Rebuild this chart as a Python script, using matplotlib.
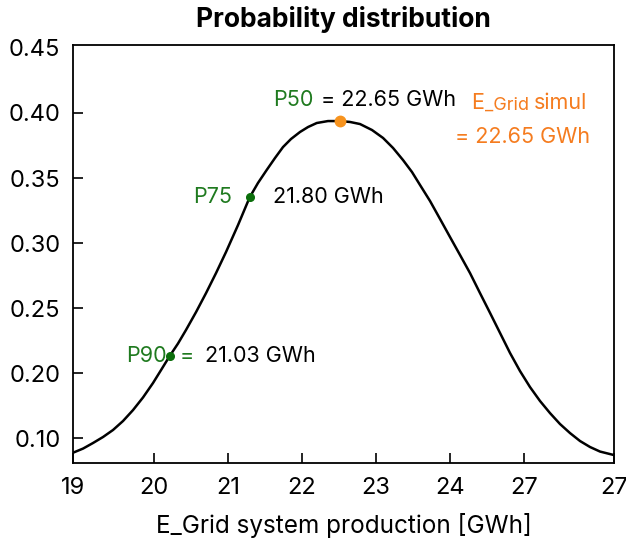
import matplotlib
matplotlib.use('Agg')
import matplotlib.pyplot as plt

plt.rcParams['font.family'] = ['Inter', 'DejaVu Sans']

# curve (x in axis units, y = density)
curve_x = [18.905, 19.041, 19.176, 19.311, 19.446, 19.581, 19.716, 19.851, 19.986,
           20.095, 20.212, 20.324, 20.432, 20.568, 20.703, 20.838, 20.973, 21.135,
           21.293, 21.405, 21.523, 21.635, 21.743, 21.851, 21.973, 22.081, 22.199,
           22.351, 22.514, 22.649, 22.784, 22.946, 23.095, 23.230, 23.365, 23.486,
           23.595, 23.730, 23.865, 24.000, 24.135, 24.270, 24.405, 24.541, 24.676,
           24.811, 24.946, 25.081, 25.216, 25.351, 25.486, 25.622, 25.757, 25.892,
           26.027, 26.216]
curve_y = [0.1387, 0.1419, 0.1462, 0.1508, 0.1562, 0.1631, 0.1715, 0.1812, 0.1923,
           0.2023, 0.2131, 0.2227, 0.2331, 0.2469, 0.2615, 0.2769, 0.2931, 0.3138,
           0.3352, 0.3462, 0.3562, 0.3654, 0.3738, 0.3800, 0.3854, 0.3892, 0.3923,
           0.3938, 0.3938, 0.3931, 0.3915, 0.3869, 0.3808, 0.3731, 0.3638, 0.3546,
           0.3446, 0.3323, 0.3185, 0.3046, 0.2908, 0.2769, 0.2615, 0.2462, 0.2308,
           0.2154, 0.2015, 0.1892, 0.1785, 0.1692, 0.1608, 0.1538, 0.1477, 0.1431,
           0.1396, 0.1369]

p_x = [20.212, 21.293]   # P90, P75
p_y = [0.2131, 0.3352]
p50_x = 22.514
p50_y = 0.3938

xtick_pos = [18.905, 20, 21, 22, 23, 24, 25, 26.216]
xtick_lab = ['19', '20', '21', '22', '23', '24', '27', '27']
ytick_pos = [0.15, 0.20, 0.25, 0.30, 0.35, 0.40, 0.45]
ytick_lab = ['0.10', '0.20', '0.25', '0.30', '0.35', '0.40', '0.45']

green = '#1f7a1f'
orange = '#f57c1f'

fig = plt.figure(figsize=(6.26, 5.45), dpi=100)
ax = fig.add_axes([73/626, 1-463/545, (614-73)/626, (463-45)/545])

ax.plot(curve_x, curve_y, color='black', lw=1.8, solid_joinstyle='round')
ax.plot(p_x, p_y, 'o', color='#0b6e0b', ms=5.5, zorder=3)
ax.plot([p50_x], [p50_y], 'o', color='#f7931e', ms=7.5, zorder=3)

ax.set_xlim(18.905, 26.216)
ax.set_ylim(0.1308, 0.4523)
ax.set_xticks(xtick_pos)
ax.set_xticklabels(xtick_lab)
ax.set_yticks(ytick_pos)
ax.set_yticklabels(ytick_lab)
ax.tick_params(direction='in', length=7, width=1.2, labelsize=17, pad=9)
ax.tick_params(axis='x', pad=10)
ax.yaxis.get_major_ticks()[-1].tick1line.set_visible(False)
for s in ax.spines.values():
    s.set_linewidth(1.3)

ax.set_title('Probability distribution', fontsize=19, fontweight='bold', pad=13)
ax.set_xlabel('E_Grid system production [GWh]', fontsize=17.5, labelpad=10)

fs = 15.5
ax.text(21.608, 0.410, 'P50', color=green, fontsize=fs, va='center')
ax.text(22.257, 0.410, '= 22.65 GWh', color='black', fontsize=fs, va='center')
ax.text(20.527, 0.3354, 'P75', color=green, fontsize=fs, va='center')
ax.text(21.608, 0.3354, '21.80 GWh', color='black', fontsize=fs, va='center')
ax.text(19.622, 0.2131, 'P90', color=green, fontsize=fs, va='center')
ax.text(20.351, 0.2131, '=', color=green, fontsize=fs, va='center')
ax.text(20.689, 0.2131, '21.03 GWh', color='black', fontsize=fs, va='center')

ax.text(24.284, 0.4077, 'E', color=orange, fontsize=fs, va='center')
ax.text(24.47, 0.4058, '_Grid', color=orange, fontsize=13, va='center')
ax.text(25.13, 0.4077, 'simul', color=orange, fontsize=fs, va='center')
ax.text(24.067, 0.3815, '= 22.65 GWh', color=orange, fontsize=fs, va='center')

fig.savefig('out.png', dpi=100)
